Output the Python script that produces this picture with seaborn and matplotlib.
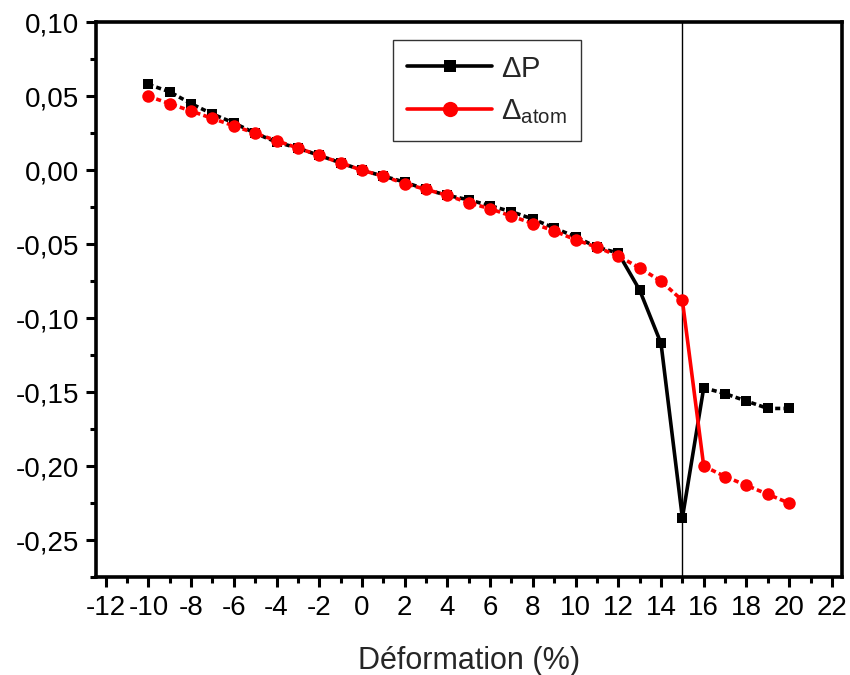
import numpy as np
import pandas as pd
import matplotlib
matplotlib.use("Agg")
import matplotlib.pyplot as plt
from matplotlib.ticker import MultipleLocator, FuncFormatter
from matplotlib.lines import Line2D
import seaborn as sns

# Strain (%) and the two response series
strain = [-10, -9, -8, -7, -6, -5, -4, -3, -2, -1, 0, 1, 2, 3, 4, 5, 6, 7, 8, 9, 10,
          11, 12, 13, 14, 15, 16, 17, 18, 19, 20]
delta_p = [0.058, 0.053, 0.045, 0.038, 0.032, 0.025, 0.019, 0.015, 0.010, 0.005, 0.000,
           -0.004, -0.008, -0.013, -0.017, -0.020, -0.024, -0.028, -0.033, -0.039, -0.045,
           -0.052, -0.056, -0.081, -0.117, -0.235, -0.147, -0.151, -0.156, -0.161, -0.161]
delta_atom = [0.050, 0.045, 0.040, 0.035, 0.030, 0.025, 0.020, 0.015, 0.010, 0.005, 0.000,
              -0.004, -0.009, -0.013, -0.017, -0.022, -0.026, -0.031, -0.036, -0.041, -0.047,
              -0.052, -0.058, -0.066, -0.075, -0.088, -0.200, -0.207, -0.213, -0.219, -0.225]
transition = 15

sns.set_theme(style="white")
plt.rcParams["font.family"] = ["Liberation Sans", "DejaVu Sans"]
plt.rcParams["mathtext.fontset"] = "custom"
plt.rcParams["mathtext.rm"] = "Liberation Sans"
plt.rcParams["mathtext.it"] = "Liberation Sans"
plt.rcParams["mathtext.sf"] = "Liberation Sans"
plt.rcParams["axes.unicode_minus"] = False

df = pd.DataFrame({"strain": strain, "dp": delta_p, "da": delta_atom})

fig = plt.figure(figsize=(8.5, 6.75), dpi=100)
ax = fig.add_axes([0.113, 0.145, 0.877, 0.822])

dot = (0, (1.4, 0.9))
# (series column, colour, marker, markersize, [(start, end, style), ...])
specs = [
    ("dp", "black", "s", 7.5, [(-10, 12, dot), (12, 16, "-"), (16, 20, dot)]),
    ("da", "red", "o", 9, [(-10, 15, dot), (15, 16, "-"), (16, 20, dot)]),
]
for col, color, mk, ms, segs in specs:
    for lo, hi, ls in segs:
        sub = df[(df.strain >= lo) & (df.strain <= hi)]
        sns.lineplot(data=sub, x="strain", y=col, ax=ax, color=color, linewidth=2.6,
                     linestyle=ls, estimator=None, sort=True, legend=False)
    sns.lineplot(data=df, x="strain", y=col, ax=ax, color=color, linewidth=0,
                 marker=mk, markersize=ms, markeredgewidth=0, estimator=None,
                 legend=False, zorder=5)

ax.axvline(transition, color="black", linewidth=1.0, zorder=1)

ax.set_xlim(-12.45, 22.45)
ax.set_ylim(-0.275, 0.10)
ax.xaxis.set_major_locator(MultipleLocator(2))
ax.xaxis.set_minor_locator(MultipleLocator(1))
ax.yaxis.set_major_locator(MultipleLocator(0.05))
ax.yaxis.set_minor_locator(MultipleLocator(0.025))
ax.yaxis.set_major_formatter(FuncFormatter(lambda v, p: f"{v:.2f}".replace(".", ",").replace("-0,00", "0,00")))
ax.xaxis.set_major_formatter(FuncFormatter(lambda v, p: f"{v:.0f}"))

ax.tick_params(axis="both", which="major", direction="out", length=7, width=2.2,
               labelsize=20, color="black", labelcolor="black", bottom=True, left=True)
ax.tick_params(axis="y", which="major", pad=5)
ax.tick_params(axis="x", which="major", pad=6)
ax.tick_params(axis="both", which="minor", direction="out", length=4, width=2.2,
               color="black", bottom=True, left=True)
for side in ["left", "bottom", "top", "right"]:
    ax.spines[side].set_linewidth(2.6)
    ax.spines[side].set_color("black")

ax.set_xlabel("Déformation (%)", fontsize=22, labelpad=18)
ax.set_ylabel("")

handles = [
    Line2D([], [], color="black", linewidth=2.6, marker="s", markersize=9, markeredgewidth=0),
    Line2D([], [], color="red", linewidth=2.6, marker="o", markersize=11, markeredgewidth=0),
]
leg = ax.legend(handles, [r"$\Delta$P", r"$\Delta_{\mathrm{atom}}$"], loc="upper left",
                bbox_to_anchor=(0.398, 0.968), borderaxespad=0, fontsize=21, frameon=True,
                fancybox=False, edgecolor="black", handlelength=2.9, handletextpad=0.3,
                borderpad=0.5, labelspacing=0.5)
leg.get_frame().set_linewidth(1.0)

fig.savefig("out.png", dpi=100, facecolor="white")
